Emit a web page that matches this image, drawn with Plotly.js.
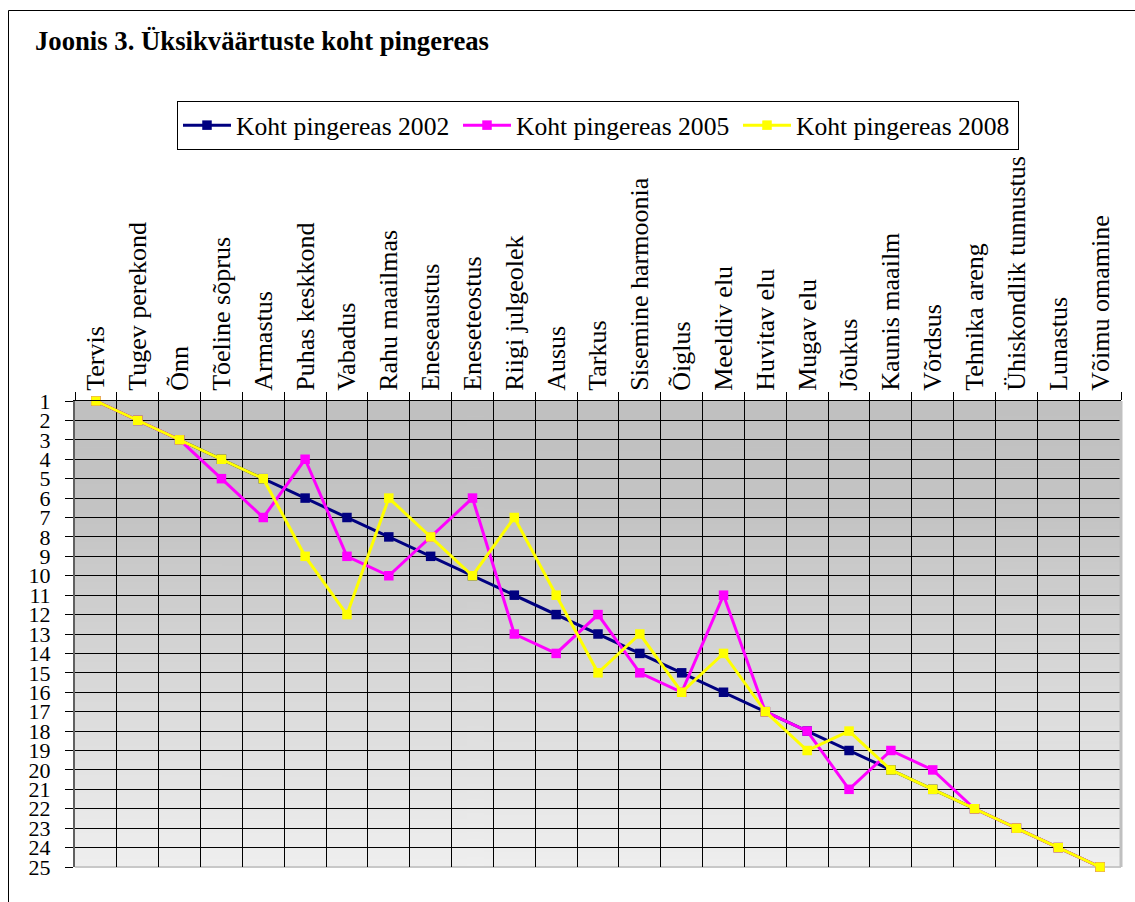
<!DOCTYPE html>
<html>
<head>
<meta charset="utf-8">
<script src="https://cdn.plot.ly/plotly-3.0.1.min.js"></script>
<style>
  html, body { margin: 0; padding: 0; background: #ffffff; }
  #chart { width: 1135px; height: 902px; }
</style>
</head>
<body>
<div id="chart"></div>
<script>
// ---- data ----
const categories = [
  "Tervis", "Tugev perekond", "Õnn", "Tõeline sõprus", "Armastus",
  "Puhas keskkond", "Vabadus", "Rahu maailmas", "Eneseaustus", "Eneseteostus",
  "Riigi julgeolek", "Ausus", "Tarkus", "Sisemine harmoonia", "Õiglus",
  "Meeldiv elu", "Huvitav elu", "Mugav elu", "Jõukus", "Kaunis maailm",
  "Võrdsus", "Tehnika areng", "Ühiskondlik tunnustus", "Lunastus", "Võimu omamine"
];
const rank2002 = [1, 2, 3, 4, 5, 6, 7, 8, 9, 10, 11, 12, 13, 14, 15, 16, 17, 18, 19, 20, 21, 22, 23, 24, 25];
const rank2005 = [1, 2, 3, 5, 7, 4, 9, 10, 8, 6, 13, 14, 12, 15, 16, 11, 17, 18, 21, 19, 20, 22, 23, 24, 25];
const rank2008 = [1, 2, 3, 4, 5, 9, 12, 6, 8, 10, 7, 11, 15, 13, 16, 14, 17, 19, 18, 20, 21, 22, 23, 24, 25];
const seriesNames = ["Koht pingereas 2002", "Koht pingereas 2005", "Koht pingereas 2008"];
const yTicks = [1, 2, 3, 4, 5, 6, 7, 8, 9, 10, 11, 12, 13, 14, 15, 16, 17, 18, 19, 20, 21, 22, 23, 24, 25];
const chartTitle = "Joonis 3. Üksikväärtuste koht pingereas";

// ---- styling ----
const colors = ["#000080", "#ff00ff", "#ffff00"];
const serif = "Liberation Serif";

// gradient background for plot area
const cv = document.createElement("canvas");
cv.width = 4; cv.height = 256;
const ctx = cv.getContext("2d");
const g = ctx.createLinearGradient(0, 0, 0, 256);
g.addColorStop(0, "#c0c0c0");
g.addColorStop(0.25, "#c4c4c4");
g.addColorStop(1, "#efefef");
ctx.fillStyle = g;
ctx.fillRect(0, 0, 4, 256);
const bgURL = cv.toDataURL("image/png");

const W = 1135, H = 902;
const M = { l: 75, r: 14, t: 401, b: 35 };
const pw = W - M.l - M.r, ph = H - M.t - M.b;
const px2x = (px) => (px - M.l) / pw;
const px2y = (py) => (H - M.b - py) / ph;

const allRanks = [rank2002, rank2005, rank2008];
const traces = allRanks.map((vals, i) => ({
  type: "scatter",
  mode: "lines+markers",
  name: seriesNames[i],
  x: categories,
  y: vals,
  cliponaxis: false,
  line: { color: colors[i], width: 3 },
  marker: { symbol: "square", size: 9.5, color: colors[i], line: { width: 0 } }
}));

const layout = {
  width: W, height: H,
  margin: M,
  paper_bgcolor: "#ffffff",
  plot_bgcolor: "rgba(0,0,0,0)",
  font: { family: serif, color: "#000000", size: 22 },
  title: {
    text: "<b>" + chartTitle + "</b>",
    font: { family: serif, size: 26.7, color: "#000000" },
    xref: "container", yref: "container",
    x: 35 / W, xanchor: "left",
    y: 1 - 41 / H, yanchor: "middle"
  },
  showlegend: true,
  legend: {
    orientation: "h",
    x: px2x(177), xanchor: "left",
    y: px2y(101), yanchor: "top",
    bgcolor: "#ffffff",
    bordercolor: "#000000",
    borderwidth: 1,
    font: { family: serif, size: 25.6, color: "#000000" },
    itemwidth: 48,
    entrywidth: 217,
    entrywidthmode: "pixels",
    traceorder: "normal"
  },
  xaxis: {
    type: "category",
    categoryorder: "array",
    categoryarray: categories,
    range: [-0.5, categories.length - 0.5],
    side: "top",
    tickangle: -90,
    tickson: "boundaries",
    ticks: "outside",
    ticklen: 8,
    tickcolor: "#000000",
    tickwidth: 1,
    ticklabelstandoff: 4,
    showgrid: true,
    gridcolor: "#000000",
    gridwidth: 1,
    showline: true,
    linecolor: "#000000",
    linewidth: 1,
    zeroline: false,
    fixedrange: true,
    tickfont: { family: serif, size: 26, color: "#000000" }
  },
  yaxis: {
    range: [25, 1],
    tickmode: "array",
    tickvals: yTicks,
    ticktext: yTicks.map(String),
    ticks: "outside",
    ticklen: 8,
    tickcolor: "#000000",
    tickwidth: 1,
    ticklabelstandoff: 10,
    showgrid: true,
    gridcolor: "#000000",
    gridwidth: 1,
    showline: true,
    linecolor: "#606060",
    linewidth: 2,
    zeroline: false,
    fixedrange: true,
    tickfont: { family: serif, size: 22, color: "#000000" }
  },
  images: [{
    source: bgURL,
    xref: "paper", yref: "paper",
    x: 0, y: 1, sizex: 1, sizey: 1,
    xanchor: "left", yanchor: "top",
    sizing: "stretch",
    layer: "below"
  }],
  shapes: [
    { type: "line", xref: "paper", yref: "paper", x0: 1, x1: 1, y0: 0, y1: 1,
      line: { color: "#c0c0c0", width: 3 }, layer: "above" },
    { type: "line", xref: "paper", yref: "paper", x0: 0, x1: 1, y0: 0, y1: 0,
      line: { color: "#c8c8c8", width: 2 }, layer: "below" },
    { type: "rect", xref: "paper", yref: "paper",
      x0: px2x(8.5), x1: px2x(1145), y0: px2y(915), y1: px2y(10.5),
      line: { color: "#000000", width: 1 }, fillcolor: "rgba(0,0,0,0)", layer: "above" }
  ]
};

Plotly.newPlot("chart", traces, layout, { displayModeBar: false, staticPlot: true });
</script>
</body>
</html>
